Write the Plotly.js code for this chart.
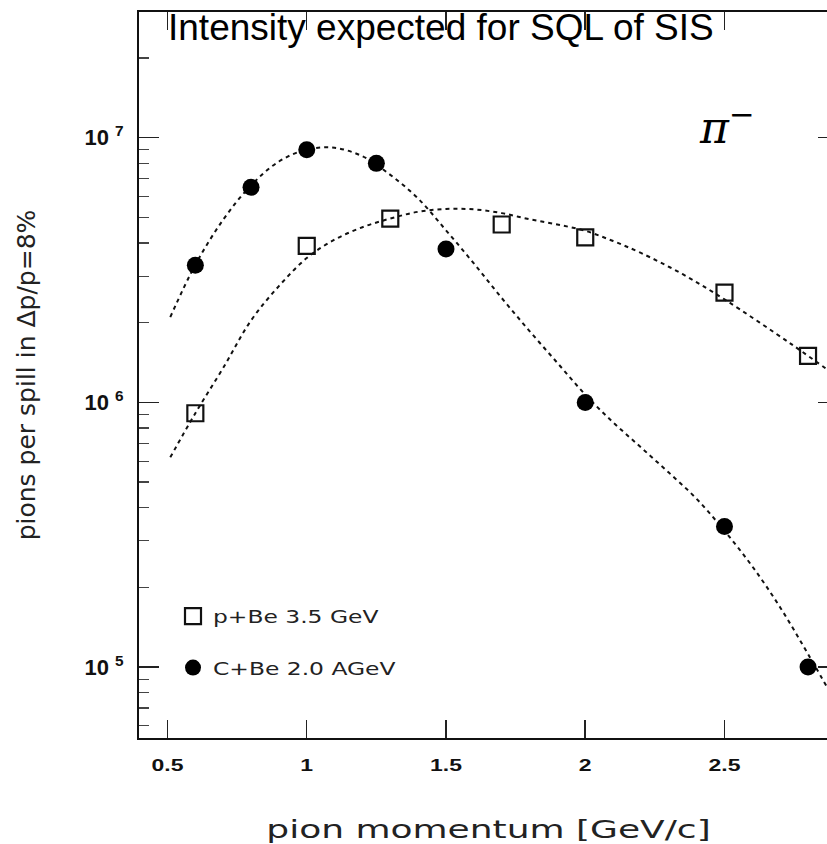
<!DOCTYPE html>
<html>
<head>
<meta charset="utf-8">
<script src="https://cdn.plot.ly/plotly-3.0.1.min.js"></script>
<style>
  html, body { margin: 0; padding: 0; background: #fff; overflow: hidden; }
  #chart { width: 838px; height: 844px; }
  /* wide PAW-style lettering for the legend entries */
  .legendtext { transform-box: fill-box; transform-origin: 0% 50%; transform: scaleX(1.3); }
</style>
</head>
<body>
<div id="chart"></div>
<script>
// measured pion yields, p + Be at 3.5 GeV
const momentumPBe = [0.6, 1.0, 1.3, 1.7, 2.0, 2.5, 2.8];
const yieldPBe    = [9.1e5, 3.9e6, 4.95e6, 4.7e6, 4.2e6, 2.6e6, 1.5e6];

// measured pion yields, C + Be at 2.0 AGeV
const momentumCBe = [0.6, 0.8, 1.0, 1.25, 1.5, 2.0, 2.5, 2.8];
const yieldCBe    = [3.3e6, 6.5e6, 9.0e6, 8.0e6, 3.8e6, 1.0e6, 3.4e5, 1.0e5];

// fitted curves (dashed)
const fitMomentumPBe = [0.51, 0.6, 0.7, 0.8, 0.9, 1.0, 1.1, 1.2, 1.3, 1.4, 1.5, 1.6, 1.7, 1.8, 1.9, 2.0, 2.1, 2.2, 2.35, 2.5, 2.74, 2.9];
const fitYieldPBe    = [6.2e5, 9.1e5, 1.35e6, 2.04e6, 2.75e6, 3.51e6, 4.12e6, 4.59e6, 4.95e6, 5.25e6, 5.38e6, 5.36e6, 5.19e6, 4.92e6, 4.7e6, 4.45e6, 4.07e6, 3.67e6, 3.05e6, 2.45e6, 1.66e6, 1.26e6];

const fitMomentumCBe = [0.51, 0.6, 0.7, 0.8, 0.9, 1.0, 1.1, 1.2, 1.3, 1.4, 1.5, 1.6, 1.7, 1.8, 1.9, 2.0, 2.1, 2.2, 2.3, 2.4, 2.5, 2.6, 2.7, 2.8, 2.9];
const fitYieldCBe    = [2.1e6, 3.31e6, 4.9e6, 6.61e6, 8.13e6, 9.02e6, 9.16e6, 8.51e6, 7.24e6, 5.89e6, 4.47e6, 3.35e6, 2.48e6, 1.86e6, 1.41e6, 1.07e6, 8.41e5, 6.76e5, 5.43e5, 4.32e5, 3.27e5, 2.4e5, 1.68e5, 1.12e5, 7.33e4];

// axis ticks and labels
const xTickVals = [0.5, 1, 1.5, 2, 2.5];
const xTickText = ['0.5', '1', '1.5', '2', '2.5'];
const yTickVals = [1e5, 1e6, 1e7];
const yTickText = ['10 <sup>5</sup>', '10 <sup>6</sup>', '10 <sup>7</sup>'];

const seriesNames = ['p+Be 3.5 GeV', 'C+Be 2.0 AGeV'];

// minor ticks 2..9 x 10^n on the log axis
const yMinor = [];
for (let e = 4; e <= 7; e++) {
  for (let m = 2; m <= 9; m++) yMinor.push(m * Math.pow(10, e));
}

const dashLine = { color: '#111', width: 2, dash: '4px,4px', shape: 'spline' };

const data = [
  { x: fitMomentumCBe, y: fitYieldCBe, mode: 'lines', line: dashLine, showlegend: false, hoverinfo: 'skip' },
  { x: fitMomentumPBe, y: fitYieldPBe, mode: 'lines', line: dashLine, showlegend: false, hoverinfo: 'skip' },
  { x: momentumPBe, y: yieldPBe, mode: 'markers', name: seriesNames[0], legendgroup: 'a',
    marker: { symbol: 'square-open', size: 16, color: '#111', line: { width: 2.2, color: '#111' } } },
  { x: momentumCBe, y: yieldCBe, mode: 'markers', name: seriesNames[1], legendgroup: 'b',
    marker: { symbol: 'circle', size: 17, color: '#000' } }
];

const L = 139, T = 12, W = 838, H = 844, B = 106;
const plotW = W - L;           // right frame sits just past the page edge
const plotH = H - T - B;

const layout = {
  width: W, height: H,
  margin: { l: L, r: 0, t: T, b: B, pad: 0 },
  paper_bgcolor: '#fff', plot_bgcolor: '#fff',
  showlegend: true,
  title: {
    text: 'Intensity expected for SQL of SIS',
    font: { family: 'Liberation Sans, Arial, sans-serif', size: 37, color: '#000' },
    xref: 'container', x: 168 / W, xanchor: 'left',
    yref: 'container', y: 1 - 14 / H, yanchor: 'top'
  },
  xaxis: {
    type: 'linear',
    range: [0.3977, 0.3977 + plotW / 278.5],
    tickmode: 'array', tickvals: xTickVals, ticktext: xTickText,
    ticks: 'inside', ticklen: 18, tickwidth: 1.5, tickcolor: '#222',
    ticklabelstandoff: 11,
    tickfont: { family: 'Liberation Sans, Arial, sans-serif', size: 17, color: '#111', weight: 'bold' },
    showline: true, linecolor: '#111', linewidth: 2, mirror: 'ticks',
    showgrid: false, zeroline: false, automargin: false,
    title: {
      text: 'pion momentum [GeV/c]',
      font: { family: 'DejaVu Sans, sans-serif', size: 24, color: '#222' },
      standoff: 50
    }
  },
  yaxis: {
    type: 'log',
    range: [4.732, 7.475],
    tickmode: 'array', tickvals: yTickVals, ticktext: yTickText,
    ticks: 'inside', ticklen: 20, tickwidth: 1.5, tickcolor: '#222',
    ticklabelstandoff: 9,
    tickfont: { family: 'Liberation Sans, Arial, sans-serif', size: 22, color: '#111', weight: 'bold' },
    minor: { tickmode: 'array', tickvals: yMinor, ticks: 'inside', ticklen: 10, tickwidth: 1.2, tickcolor: '#444' },
    showline: true, linecolor: '#111', linewidth: 2, mirror: 'ticks',
    showgrid: false, zeroline: false, automargin: false,
    title: {
      text: 'pions per spill in \u0394p/p=8%',
      font: { family: 'DejaVu Sans, sans-serif', size: 25, color: '#222' },
      standoff: 42
    }
  },
  legend: {
    x: (173 - L) / plotW, xanchor: 'left',
    y: (H - B - 598) / plotH, yanchor: 'top',
    bgcolor: 'rgba(0,0,0,0)', borderwidth: 0,
    traceorder: 'grouped', tracegroupgap: 25,
    font: { family: 'DejaVu Sans, sans-serif', size: 18, color: '#222' }
  },
  annotations: [
    { text: '<i>\u03c0</i><sup>\u2212</sup>', xref: 'paper', yref: 'paper',
      x: (727 - L) / plotW, y: (H - B - 124) / plotH, xanchor: 'center', yanchor: 'middle',
      showarrow: false, font: { family: 'DejaVu Serif, serif', size: 44, color: '#000' } }
  ]
};

// widen horizontal lettering without disturbing Plotly's own positioning
function widen(el, factor) {
  const w = el.getComputedTextLength();
  if (w > 0) {
    el.setAttribute('textLength', (w * factor).toFixed(1));
    el.setAttribute('lengthAdjust', 'spacingAndGlyphs');
  }
}

Plotly.newPlot('chart', data, layout, { staticPlot: true, displayModeBar: false }).then(function (gd) {
  gd.querySelectorAll('.xtick text').forEach(function (t) { widen(t, 1.35); });
  const xt = gd.querySelector('.xtitle');
  if (xt) widen(xt, 1.5);
});
</script>
</body>
</html>
